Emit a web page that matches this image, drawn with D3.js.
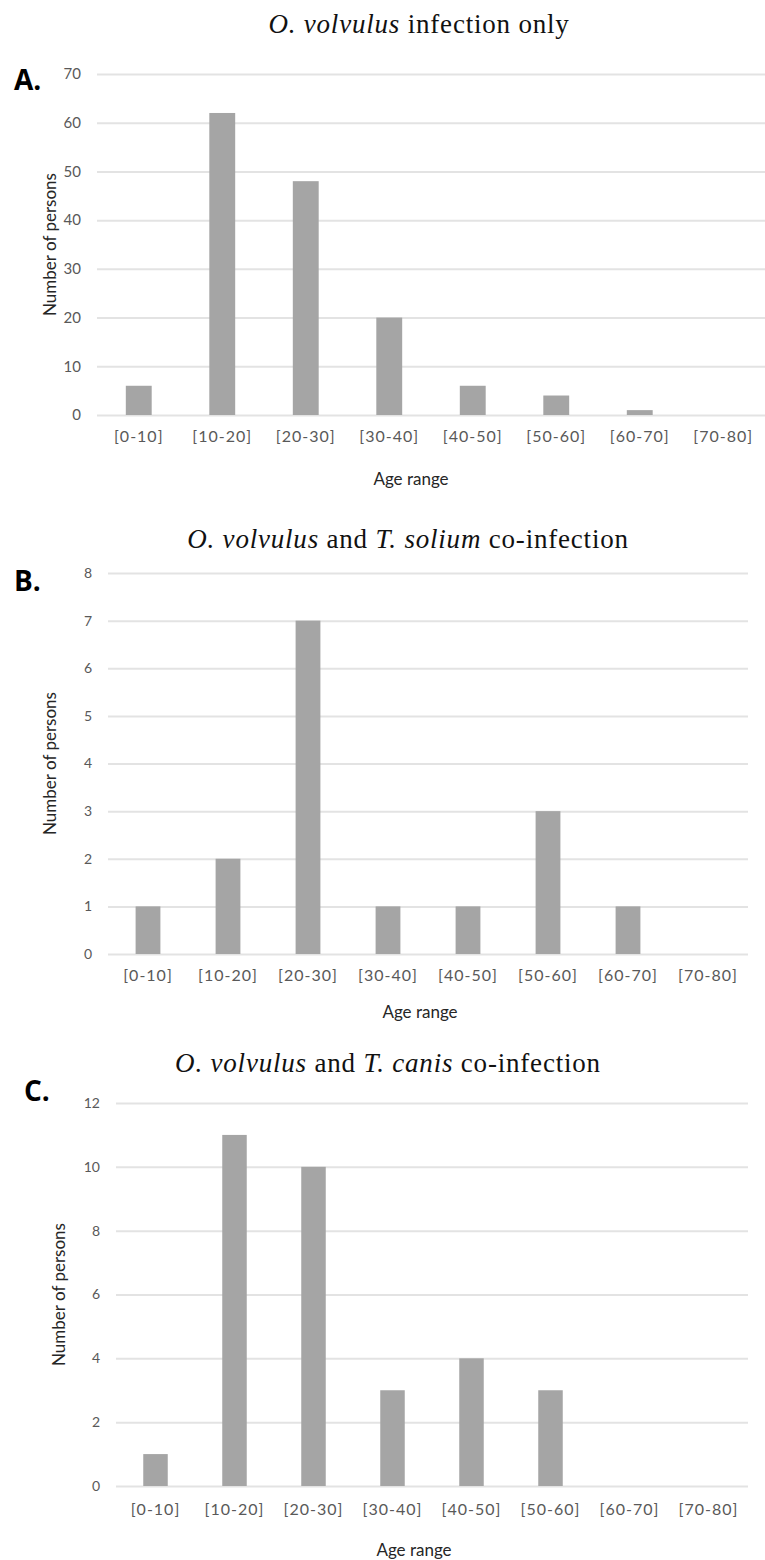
<!DOCTYPE html>
<html>
<head>
<meta charset="utf-8">
<script src="https://cdn.jsdelivr.net/npm/d3@7"></script>
<style>
  body { margin: 0; background: #fff; }
  .tick text { fill: #595959; font-family: Lato, "Open Sans", sans-serif; }
  .axis-title { fill: #262626; font-family: Lato, "Open Sans", sans-serif; }
  .panel-title { font-family: "Liberation Serif", "DejaVu Serif", serif; fill: #111; letter-spacing: 0.8px; }
  .panel-letter { font-family: "Open Sans", Lato, sans-serif; font-weight: bold; fill: #000; }
</style>
</head>
<body>
<script>
// age groups shared by all three charts
var ageRanges = ["[0-10]", "[10-20]", "[20-30]", "[30-40]", "[40-50]", "[50-60]", "[60-70]", "[70-80]"];

// number of persons per age group
var countsA = [6, 62, 48, 20, 6, 4, 1, 0];   // O. volvulus only
var countsB = [1, 2, 7, 1, 1, 3, 1, 0];      // + T. solium
var countsC = [1, 11, 10, 3, 4, 3, 0, 0];    // + T. canis

var ticksA = [0, 10, 20, 30, 40, 50, 60, 70];
var ticksB = [0, 1, 2, 3, 4, 5, 6, 7, 8];
var ticksC = [0, 2, 4, 6, 8, 10, 12];

var width = 765;
var height = 1560;

var svg = d3.select("body")
    .append("svg")
    .attr("width", width)
    .attr("height", height);

var panels = [
    { letter: "A.", letterX: 14, letterY: 90, counts: countsA, ticks: ticksA,
      title: [["O. volvulus", true], [" infection only", false]], titleX: 419, titleY: 33,
      left: 97, right: 765, top: 74, bottom: 415, yTickSize: 15, xLabelY: 437,
      yTitleX: 50, xTitleX: 411, xTitleY: 485 },
    { letter: "B.", letterX: 14, letterY: 591, counts: countsB, ticks: ticksB,
      title: [["O. volvulus", true], [" and ", false], ["T. solium", true], [" co-infection", false]],
      titleX: 408, titleY: 548,
      left: 108, right: 748, top: 573, bottom: 954, yTickSize: 14, xLabelY: 976,
      yTitleX: 50, xTitleX: 420, xTitleY: 1018 },
    { letter: "C.", letterX: 24, letterY: 1101, counts: countsC, ticks: ticksC,
      title: [["O. volvulus", true], [" and ", false], ["T. canis", true], [" co-infection", false]],
      titleX: 388, titleY: 1072,
      left: 116, right: 748, top: 1103, bottom: 1486, yTickSize: 14, xLabelY: 1510,
      yTitleX: 59, xTitleX: 414, xTitleY: 1556 }
];

panels.forEach(function(p) {
    var x = d3.scaleBand()
        .domain(ageRanges)
        .range([p.left, p.right])
        .paddingInner(0.69)
        .paddingOuter(0.345);

    var y = d3.scaleLinear()
        .domain([0, d3.max(p.ticks)])
        .range([p.bottom, p.top]);

    var g = svg.append("g");

    // title with italic species names
    var t = g.append("text")
        .attr("class", "panel-title")
        .attr("x", p.titleX)
        .attr("y", p.titleY)
        .attr("text-anchor", "middle")
        .attr("font-size", 27);
    p.title.forEach(function(part) {
        t.append("tspan")
            .attr("font-style", part[1] ? "italic" : "normal")
            .text(part[0]);
    });

    g.append("text")
        .attr("class", "panel-letter")
        .attr("x", p.letterX)
        .attr("y", p.letterY)
        .attr("font-size", 28)
        .text(p.letter);

    // gridlines + y labels
    var yAxis = d3.axisLeft(y)
        .tickValues(p.ticks)
        .tickSize(-(p.right - p.left))
        .tickPadding(16)
        .tickFormat(d3.format("d"));

    var ya = g.append("g")
        .attr("transform", "translate(" + p.left + ",0)")
        .call(yAxis);
    ya.select(".domain").remove();
    ya.selectAll(".tick line").attr("stroke", "#e3e3e3").attr("stroke-width", 2);
    ya.selectAll(".tick text").attr("font-size", p.yTickSize);

    // bars
    g.selectAll("rect")
        .data(p.counts)
        .enter()
        .append("rect")
        .attr("x", function(d, i) { return x(ageRanges[i]); })
        .attr("y", function(d) { return y(d); })
        .attr("width", x.bandwidth())
        .attr("height", function(d) { return p.bottom - y(d); })
        .attr("fill", "#a5a5a5");

    // x labels
    var xAxis = d3.axisBottom(x).tickSize(0).tickPadding(0);
    var xa = g.append("g")
        .attr("transform", "translate(0," + p.xLabelY + ")")
        .call(xAxis);
    xa.select(".domain").remove();
    xa.selectAll(".tick text")
        .attr("font-size", 16)
        .attr("letter-spacing", "1px")
        .attr("dy", "0.32em")
        .attr("y", 0);

    g.append("text")
        .attr("class", "axis-title")
        .attr("transform", "translate(" + p.yTitleX + "," + ((p.top + p.bottom) / 2) + ") rotate(-90)")
        .attr("text-anchor", "middle")
        .attr("dy", "0.35em")
        .attr("font-size", 17)
        .text("Number of persons");

    g.append("text")
        .attr("class", "axis-title")
        .attr("x", p.xTitleX)
        .attr("y", p.xTitleY)
        .attr("text-anchor", "middle")
        .attr("font-size", 17)
        .text("Age range");
});
</script>
</body>
</html>
